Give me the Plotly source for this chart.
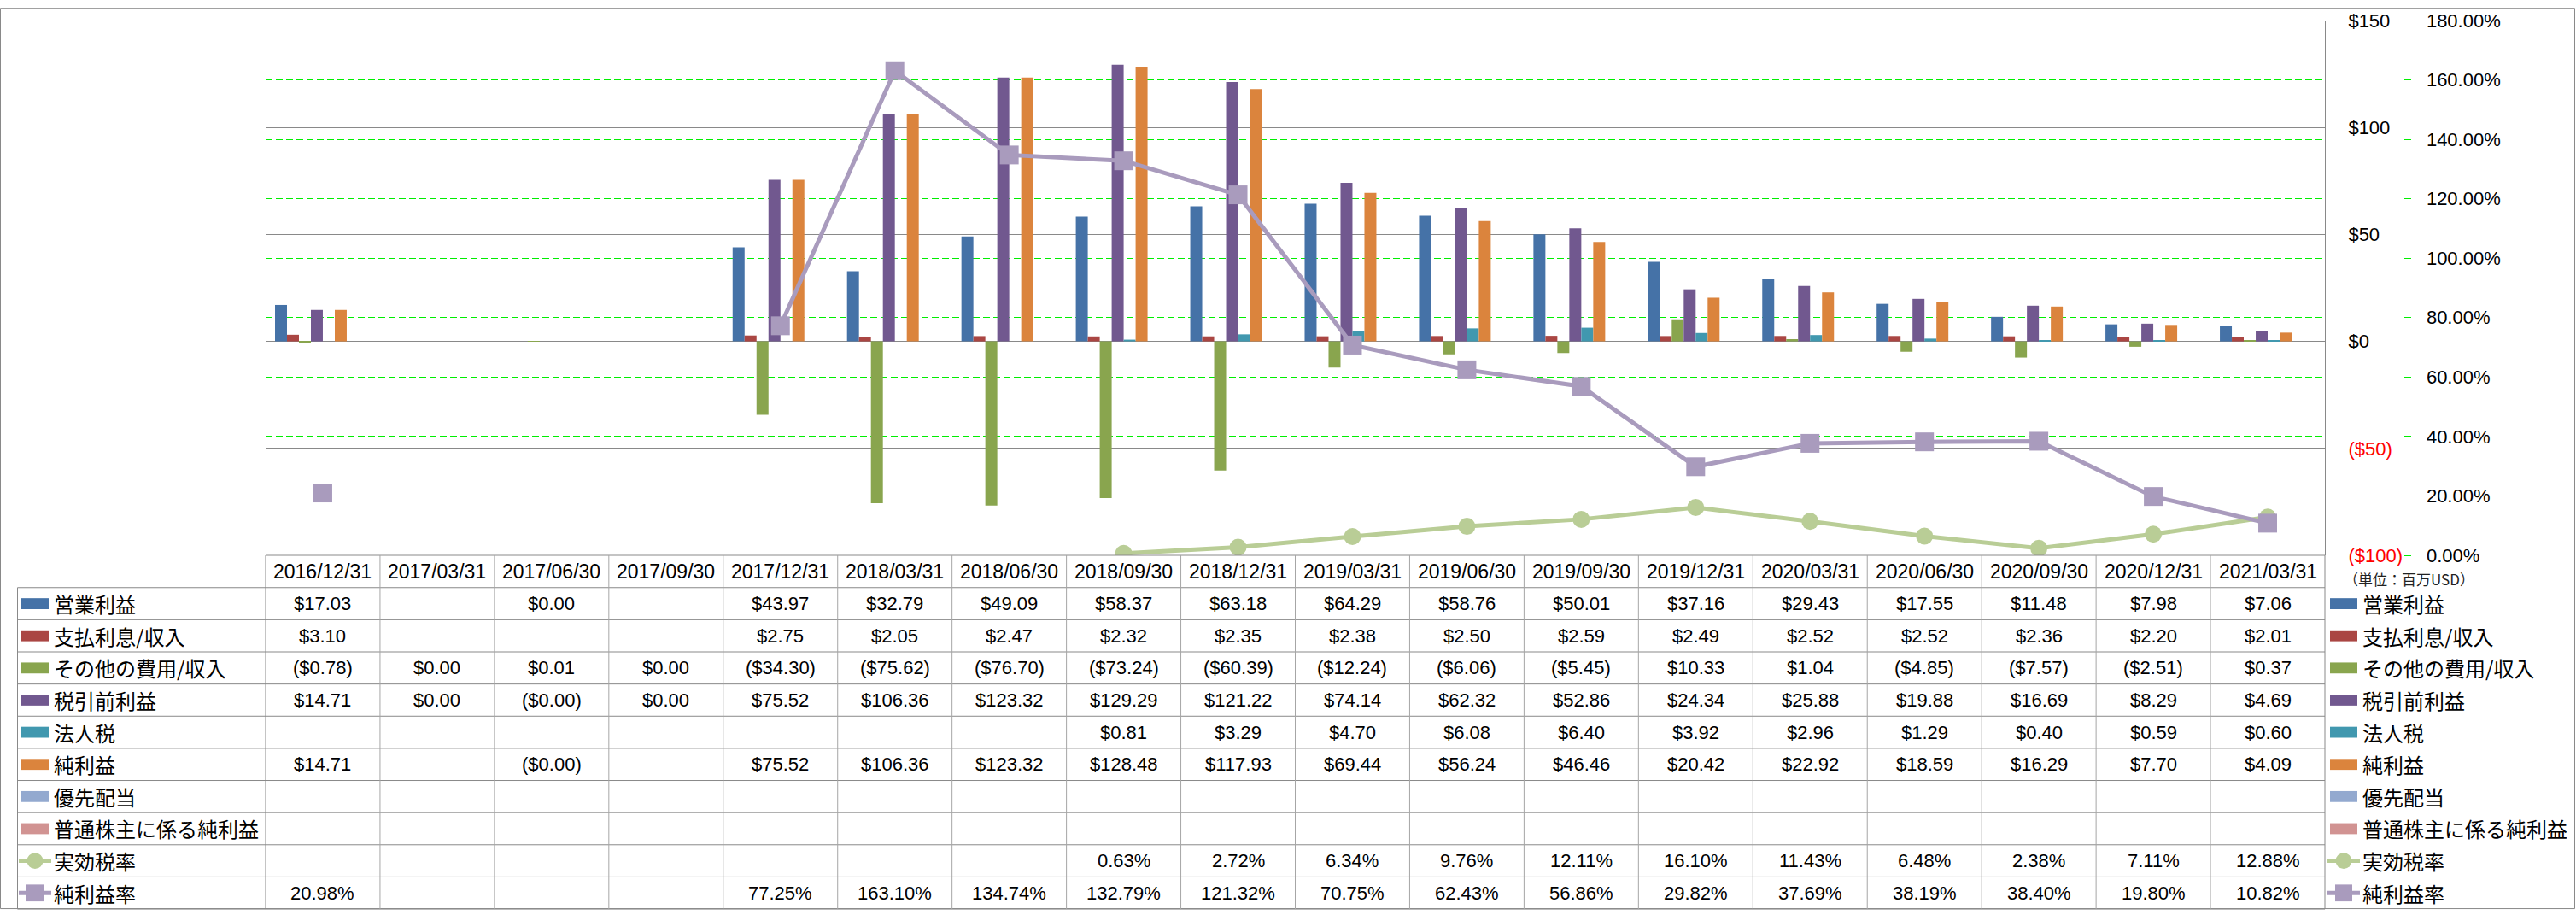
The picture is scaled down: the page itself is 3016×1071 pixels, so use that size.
import plotly.graph_objects as go

# ---------------- data ----------------
categories = ["2016/12/31", "2017/03/31", "2017/06/30", "2017/09/30", "2017/12/31",
              "2018/03/31", "2018/06/30", "2018/09/30", "2018/12/31", "2019/03/31",
              "2019/06/30", "2019/09/30", "2019/12/31", "2020/03/31", "2020/06/30",
              "2020/09/30", "2020/12/31", "2021/03/31"]

operating_income = [17.03, None, 0.00, None, 43.97, 32.79, 49.09, 58.37, 63.18, 64.29,
                    58.76, 50.01, 37.16, 29.43, 17.55, 11.48, 7.98, 7.06]
interest = [3.10, None, None, None, 2.75, 2.05, 2.47, 2.32, 2.35, 2.38,
            2.50, 2.59, 2.49, 2.52, 2.52, 2.36, 2.20, 2.01]
other_expense = [-0.78, 0.00, 0.01, 0.00, -34.30, -75.62, -76.70, -73.24, -60.39, -12.24,
                 -6.06, -5.45, 10.33, 1.04, -4.85, -7.57, -2.51, 0.37]
pretax_income = [14.71, 0.00, -0.001, 0.00, 75.52, 106.36, 123.32, 129.29, 121.22, 74.14,
                 62.32, 52.86, 24.34, 25.88, 19.88, 16.69, 8.29, 4.69]
income_tax = [None, None, None, None, None, None, None, 0.81, 3.29, 4.70,
              6.08, 6.40, 3.92, 2.96, 1.29, 0.40, 0.59, 0.60]
net_income = [14.71, None, -0.001, None, 75.52, 106.36, 123.32, 128.48, 117.93, 69.44,
              56.24, 46.46, 20.42, 22.92, 18.59, 16.29, 7.70, 4.09]
preferred_div = [None] * 18
net_income_common = [None] * 18
effective_tax_rate = [None, None, None, None, None, None, None, 0.63, 2.72, 6.34,
                      9.76, 12.11, 16.10, 11.43, 6.48, 2.38, 7.11, 12.88]
net_margin = [20.98, None, None, None, 77.25, 163.10, 134.74, 132.79, 121.32, 70.75,
              62.43, 56.86, 29.82, 37.69, 38.19, 38.40, 19.80, 10.82]

left_tick_vals = [-100, -50, 0, 50, 100, 150]
left_tick_text = ["($100)", "($50)", "$0", "$50", "$100", "$150"]
unit_label = "（単位：百万USD）"

bar_series = [
    ("営業利益", operating_income, "#4572A7"),
    ("支払利息/収入", interest, "#AA4643"),
    ("その他の費用/収入", other_expense, "#89A54E"),
    ("税引前利益", pretax_income, "#71588F"),
    ("法人税", income_tax, "#4198AF"),
    ("純利益", net_income, "#DB843D"),
    ("優先配当", preferred_div, "#93A9CF"),
    ("普通株主に係る純利益", net_income_common, "#D19392"),
]
line_series = [
    ("実効税率", effective_tax_rate, "#B9CD96", "circle"),
    ("純利益率", net_margin, "#A99BBD", "square"),
]

# ---------------- geometry ----------------
W, H = 3016, 1071
L, T = 311, 15
PR, PB = 2830, 650
PW, PH = PR - L, PB - T
PLOT_RIGHT = 2722
AX2_X = 2813.5

FONT_NUM = "Liberation Sans, Arial, sans-serif"
FONT_JP = "Noto Sans CJK JP, Noto Sans CJK SC, sans-serif"
GRAY = "#898989"
VGRAY = "#A6A6A6"
LIME = "#00EE00"


def px(x):
    return (x - L) / PW


def py(y):
    return (PB - y) / PH


fig = go.Figure()

for name, vals, col in bar_series:
    fig.add_trace(go.Bar(x=categories, y=vals, name=name,
                         marker=dict(color=col, line=dict(width=0)),
                         showlegend=False))

for name, vals, col, sym in line_series:
    fig.add_trace(go.Scatter(
        x=categories, y=[None if v is None else v / 100 for v in vals],
        name=name, yaxis="y2", mode="lines+markers", connectgaps=False,
        line=dict(color=col, width=5),
        marker=dict(symbol=sym, size=20 if sym == "circle" else 22, color=col,
                    line=dict(width=0)),
        showlegend=False))

ticktext = []
for v, t in zip(left_tick_vals, left_tick_text):
    ticktext.append(f'<span style="color:#FF0000">{t}</span>' if v < 0 else t)

fig.update_layout(
    width=W, height=H,
    margin=dict(l=L, r=W - PR, t=T, b=H - PB, pad=0),
    paper_bgcolor="white", plot_bgcolor="white",
    barmode="group", bargap=0.164, bargroupgap=0,
    showlegend=False,
    font=dict(family=FONT_NUM, size=22, color="#000000"),
    xaxis=dict(type="category", domain=[0, px(PLOT_RIGHT)], range=[-0.5, 17.5],
               showticklabels=False, showgrid=False, zeroline=False, showline=False,
               ticks=""),
    yaxis=dict(side="right", anchor="x", range=[-100, 150],
               tickvals=left_tick_vals, ticktext=ticktext,
               showline=True, linecolor=GRAY, linewidth=1,
               showgrid=True, gridcolor=GRAY, gridwidth=1,
               zeroline=True, zerolinecolor=GRAY, zerolinewidth=1,
               ticks="", ticklabelstandoff=22,
               tickfont=dict(family=FONT_NUM, size=22, color="#000000")),
    yaxis2=dict(side="right", overlaying="y", anchor="free", position=px(AX2_X),
                range=[0, 1.8], dtick=0.2, tick0=0, tickformat=".2%",
                showline=False, showgrid=True, gridcolor=LIME, gridwidth=1,
                griddash="8px,4px", zeroline=False,
                ticks="outside", ticklen=8, tickcolor=LIME, tickwidth=1,
                ticklabelstandoff=14,
                tickfont=dict(family=FONT_NUM, size=22, color="#000000")),
)

shapes = []
annotations = []

# outer border
shapes.append(dict(type="rect", xref="paper", yref="paper",
                   x0=px(0.5), x1=px(W - 1.5), y0=py(0.5), y1=py(H - 1.5),
                   line=dict(color=GRAY, width=1), fillcolor="rgba(0,0,0,0)"))
# dashed secondary axis line
shapes.append(dict(type="line", xref="paper", yref="paper",
                   x0=px(AX2_X), x1=px(AX2_X), y0=py(T), y1=py(PB),
                   line=dict(color=LIME, width=1, dash="6px,3px")))

# ---------------- data table ----------------
HEAD_TOP, HEAD_BOT = 650, 688.3
ROW_H = (1070 - HEAD_BOT) / 10
TABLE_LEFT = 20.5
COL_W = (PLOT_RIGHT - L) / len(categories)

row_tops = [HEAD_BOT + ROW_H * i for i in range(11)]

# horizontal lines
shapes.append(dict(type="line", xref="paper", yref="paper", x0=px(L), x1=px(PLOT_RIGHT),
                   y0=py(HEAD_TOP), y1=py(HEAD_TOP), line=dict(color=GRAY, width=1)))
for yt in row_tops:
    shapes.append(dict(type="line", xref="paper", yref="paper",
                       x0=px(TABLE_LEFT), x1=px(PLOT_RIGHT), y0=py(yt), y1=py(yt),
                       line=dict(color=GRAY, width=1)))
# vertical lines
shapes.append(dict(type="line", xref="paper", yref="paper",
                   x0=px(TABLE_LEFT), x1=px(TABLE_LEFT), y0=py(HEAD_BOT), y1=py(1070),
                   line=dict(color=GRAY, width=1)))
for k in range(len(categories) + 1):
    xx = L + COL_W * k
    shapes.append(dict(type="line", xref="paper", yref="paper",
                       x0=px(xx), x1=px(xx), y0=py(HEAD_TOP), y1=py(1070),
                       line=dict(color=VGRAY if 0 < k < len(categories) else GRAY, width=1)))

# header labels (categories)
for c in categories:
    annotations.append(dict(x=c, xref="x", y=py((HEAD_TOP + HEAD_BOT) / 2), yref="paper",
                            text=c, showarrow=False, xanchor="center", yanchor="middle",
                            font=dict(family=FONT_NUM, size=23, color="#000000")))


def fmt_money(v):
    if v is None:
        return None
    s = f"${abs(v):,.2f}"
    return f"({s})" if v < 0 else s


def fmt_pct(v):
    if v is None:
        return None
    return f"{v:.2f}%"


table_rows = [(n, vals, col, "bar") for n, vals, col in bar_series] + \
             [(n, vals, col, sym) for n, vals, col, sym in line_series]

for i, (name, vals, col, kind) in enumerate(table_rows):
    yc = row_tops[i] + ROW_H / 2
    for c, v in zip(categories, vals):
        t = fmt_pct(v) if kind != "bar" else fmt_money(v)
        if t is None:
            continue
        annotations.append(dict(x=c, xref="x", y=py(yc), yref="paper", text=t,
                                showarrow=False, xanchor="center", yanchor="middle",
                                font=dict(family=FONT_NUM, size=22, color="#000000")))
    # legend keys left and right
    for (kx0, kx1, tx) in [(25, 57, 61), (2728, 2760, 2764)]:
        if kind == "bar":
            shapes.append(dict(type="rect", xref="paper", yref="paper",
                               x0=px(kx0), x1=px(kx1), y0=py(yc + 6.5), y1=py(yc - 6.5),
                               line=dict(width=0), fillcolor=col))
        else:
            shapes.append(dict(type="line", xref="paper", yref="paper",
                               x0=px(kx0 - 3), x1=px(kx1 + 3), y0=py(yc), y1=py(yc),
                               line=dict(color=col, width=5)))
            cx = (kx0 + kx1) / 2
            r = 9.5 if kind == "circle" else 10
            shapes.append(dict(type="circle" if kind == "circle" else "rect",
                               xref="paper", yref="paper",
                               x0=px(cx - r), x1=px(cx + r), y0=py(yc + r), y1=py(yc - r),
                               line=dict(width=0), fillcolor=col))
        annotations.append(dict(x=px(tx), xref="paper", y=py(yc), yref="paper", text=name,
                                showarrow=False, xanchor="left", yanchor="middle",
                                font=dict(family=FONT_JP, size=24, color="#000000")))

# unit label
annotations.append(dict(x=px(2742), xref="paper", y=py(678), yref="paper", text=unit_label,
                        showarrow=False, xanchor="left", yanchor="middle",
                        font=dict(family=FONT_JP, size=17, color="#222222")))

fig.update_layout(shapes=shapes, annotations=annotations)

fig.write_html("out.html", config={"displayModeBar": False},
               post_script="document.body.style.margin='0';")
